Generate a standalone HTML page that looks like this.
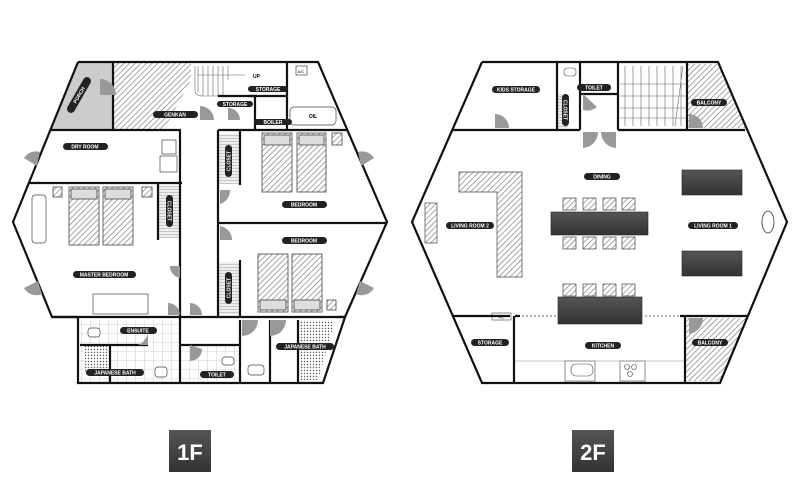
<!DOCTYPE html>
<html><head><meta charset="utf-8"><style>
html,body{margin:0;padding:0;background:#fff;}
svg{display:block}
.lb{font-family:"Liberation Sans",sans-serif;font-size:5px;font-weight:bold;fill:#fff;text-anchor:middle}
</style></head><body>
<svg width="800" height="500" viewBox="0 0 800 500" xmlns="http://www.w3.org/2000/svg">
<defs>
<pattern id="h" width="4" height="4" patternUnits="userSpaceOnUse" patternTransform="rotate(45)"><rect width="4" height="4" fill="#fff"/><line x1="0" y1="0" x2="0" y2="4" stroke="#777" stroke-width="1.3"/></pattern>
<pattern id="st" width="3" height="3" patternUnits="userSpaceOnUse"><rect width="3" height="3" fill="#eee"/><line x1="0" y1="0" x2="3" y2="0" stroke="#888" stroke-width="0.8"/></pattern>
<pattern id="dot" width="3" height="3" patternUnits="userSpaceOnUse"><rect width="3" height="3" fill="#fff"/><circle cx="1.5" cy="1.5" r="0.7" fill="#555"/></pattern>
<pattern id="tile" width="9" height="9" patternUnits="userSpaceOnUse"><rect width="9" height="9" fill="#fff"/><path d="M0 0H9M0 0V9" stroke="#aaa" stroke-width="0.6"/></pattern>
<linearGradient id="dk" x1="0" y1="0" x2="0" y2="1"><stop offset="0" stop-color="#555"/><stop offset="1" stop-color="#333"/></linearGradient>
</defs>

<!-- ============ 1F ============ -->
<polygon points="78,62 113,62 113,130 50,130" fill="#ccc"/>
<polygon points="113,62 191,62 191,80 164,130 113,130" fill="url(#h)"/>
<rect x="80" y="320" width="100" height="62" fill="url(#tile)"/>
<rect x="84" y="345" width="26" height="28" fill="url(#dot)"/>
<polygon points="298,320 335,320 318,380 300,380" fill="url(#dot)"/>
<rect x="180" y="345" width="60" height="36" fill="url(#tile)"/>
<rect x="159" y="186" width="20" height="52" fill="url(#st)"/>
<rect x="219" y="134" width="20" height="50" fill="url(#st)"/>
<rect x="219" y="262" width="20" height="52" fill="url(#st)"/>
<g fill="url(#h)" stroke="#444" stroke-width="0.8">
<rect x="69" y="187" width="30" height="58"/><rect x="103" y="187" width="30" height="58"/>
<rect x="262" y="133" width="30" height="59"/><rect x="297" y="133" width="29" height="59"/>
<rect x="258" y="254" width="30" height="58"/><rect x="292" y="254" width="30" height="58"/>
<rect x="53" y="187" width="9" height="10"/><rect x="142" y="187" width="10" height="10"/>
<rect x="332" y="133" width="10" height="12"/><rect x="327" y="300" width="9" height="10"/>
</g>
<g fill="#ddd" stroke="#444" stroke-width="0.8">
<rect x="71" y="189" width="26" height="10"/><rect x="105" y="189" width="26" height="10"/>
<rect x="264" y="135" width="26" height="10"/><rect x="299" y="135" width="25" height="10"/>
<rect x="260" y="300" width="26" height="10"/><rect x="294" y="300" width="26" height="10"/>
</g>
<g fill="#fff" stroke="#444" stroke-width="0.7">
<rect x="32" y="195" width="14" height="48" rx="3"/>
<rect x="93" y="294" width="55" height="20"/>
<rect x="162" y="140" width="14" height="14"/><rect x="160" y="156" width="17" height="16"/>
<rect x="290" y="107" width="46" height="18" rx="4"/>
<rect x="296" y="66" width="11" height="9"/>
<rect x="88" y="328" width="12" height="9" rx="3"/><rect x="222" y="357" width="12" height="8" rx="3"/>
<rect x="155" y="367" width="12" height="10" rx="3"/><rect x="248" y="365" width="16" height="10" rx="3"/>
</g>
<text x="301" y="73" font-family="Liberation Sans" font-size="4" text-anchor="middle">A/C</text>
<text x="313" y="118" font-family="Liberation Sans" font-size="5" font-weight="bold" text-anchor="middle">OIL</text>
<g stroke="#666" stroke-width="0.6" fill="none">
<path d="M198 66V92M203 66V96M208 66V96M213 66V96M218 66V96M223 66V96M228 66V80"/>
<path d="M197 75H245M195 66V90Q195 96 203 96H218"/>
</g>
<text x="253" y="78" font-family="Liberation Sans" font-size="5" font-weight="bold">UP</text>
<g stroke="#111" stroke-width="2.2" fill="none" stroke-linejoin="miter">
<polyline points="78,62 318,62 387,222 345,317 337,317"/>
<polyline points="78,62 13,222 52,317 78,317"/>
<polyline points="78,317 78,383 323,383 345,317"/>
<path d="M113,62V130M50,130H181M218,130H347M180,130V317M218,130V317M29,183H182M218,223H387M287,62V130M287,96H248M52,317H345"/>
<path d="M80,345H148M180,317V383M240,320V383M180,345H240M270,320V383M298,320V383M110,345V383"/>
<path d="M218,96H255V130M158,183V240M240,130V185M240,260V317"/>
</g>
<g fill="#999">
<path d="M100,95 v-16 a16,16 0 0 1 16,16z"/>
<path d="M200,120 v-14 a14,14 0 0 1 14,14z"/>
<path d="M228,120 v-12 a12,12 0 0 1 12,12z"/>
<path d="M170,266 h10 v12 a12,12 0 0 1 -10,-12z"/>
<path d="M168,315 v-12 a12,12 0 0 1 12,12z"/>
<path d="M190,315 v-12 a12,12 0 0 1 12,12z"/>
<path d="M220,190 v14 a14,14 0 0 0 10,-14z"/>
<path d="M220,240 v-14 a14,14 0 0 1 12,14z"/>
<path d="M148,345 v-16 a16,16 0 0 1 -10,16z"/>
<path d="M190,345 v16 a12,12 0 0 0 12,-12z"/>
<path d="M242,320 v16 a16,16 0 0 0 16,-16z"/>
<path d="M270,320 v16 a16,16 0 0 0 16,-16z"/>
<path d="M37,166 L24,158 A14,14 0 0 1 40,152z"/>
<path d="M38,281 L24,288 A14,14 0 0 0 42,294z"/>
<path d="M361,166 L374,158 A14,14 0 0 0 358,152z"/>
<path d="M360,281 L374,288 A14,14 0 0 1 356,294z"/>
</g>
<g>
<rect x="63" y="143" width="45" height="7" rx="3.5" fill="#222"/><text class="lb" x="85" y="148.5">DRY ROOM</text>
<rect x="153" y="111" width="45" height="7" rx="3.5" fill="#222"/><text class="lb" x="175" y="116.5">GENKAN</text>
<rect x="248" y="86" width="40" height="6" rx="3" fill="#222"/><text class="lb" x="268" y="91">STORAGE</text>
<rect x="217" y="101" width="36" height="6" rx="3" fill="#222"/><text class="lb" x="235" y="106">STORAGE</text>
<rect x="254" y="119" width="38" height="6" rx="3" fill="#222"/><text class="lb" x="273" y="124">BOILER</text>
<rect x="282" y="201" width="45" height="7" rx="3.5" fill="#222"/><text class="lb" x="304" y="206.5">BEDROOM</text>
<rect x="282" y="237" width="45" height="7" rx="3.5" fill="#222"/><text class="lb" x="304" y="242.5">BEDROOM</text>
<rect x="73" y="271" width="63" height="7" rx="3.5" fill="#222"/><text class="lb" x="104" y="276.5">MASTER BEDROOM</text>
<rect x="120" y="327" width="37" height="7" rx="3.5" fill="#222"/><text class="lb" x="138" y="332.5">ENSUITE</text>
<rect x="86" y="369" width="58" height="7" rx="3.5" fill="#222"/><text class="lb" x="115" y="374.5">JAPANESE BATH</text>
<rect x="200" y="371" width="34" height="7" rx="3.5" fill="#222"/><text class="lb" x="217" y="376.5">TOILET</text>
<rect x="276" y="343" width="58" height="7" rx="3.5" fill="#222"/><text class="lb" x="305" y="348.5">JAPANESE BATH</text>
<rect x="166" y="195" width="7" height="32" rx="3.5" fill="#222"/><text class="lb" transform="translate(169.5,211) rotate(90)" y="1.8">CLOSET</text>
<rect x="225" y="145" width="7" height="32" rx="3.5" fill="#222"/><text class="lb" transform="translate(228.5,161) rotate(-90)" y="1.8">CLOSET</text>
<rect x="225" y="272" width="7" height="32" rx="3.5" fill="#222"/><text class="lb" transform="translate(228.5,288) rotate(-90)" y="1.8">CLOSET</text>
<rect x="75" y="75" width="8" height="40" rx="4" fill="#222" transform="rotate(30 79 95)"/><text class="lb" transform="translate(79,95) rotate(-60)" y="1.8">PORCH</text>
</g>

<!-- ============ 2F ============ -->
<polygon points="688,64 718,64 745,128 688,128" fill="url(#h)"/>
<polygon points="686,318 747,318 722,381 686,381" fill="url(#h)"/>
<rect x="558" y="94" width="10" height="34" fill="url(#st)"/>
<g fill="url(#h)" stroke="#444" stroke-width="0.7">
<path d="M459,172H522V277H497V192H459Z"/>
<rect x="425" y="203" width="12" height="40"/>
<rect x="563" y="198" width="13" height="12"/><rect x="583" y="198" width="13" height="12"/><rect x="603" y="198" width="13" height="12"/><rect x="622" y="198" width="13" height="12"/>
<rect x="563" y="237" width="13" height="12"/><rect x="583" y="237" width="13" height="12"/><rect x="603" y="237" width="13" height="12"/><rect x="622" y="237" width="13" height="12"/>
<rect x="563" y="284" width="13" height="12"/><rect x="583" y="284" width="13" height="12"/><rect x="603" y="284" width="13" height="12"/><rect x="622" y="284" width="13" height="12"/>
</g>
<g fill="url(#dk)" stroke="#222" stroke-width="0.6">
<rect x="551" y="212" width="97" height="23"/>
<rect x="682" y="170" width="60" height="25"/>
<rect x="682" y="251" width="60" height="25"/>
<rect x="558" y="297" width="84" height="27"/>
</g>
<ellipse cx="768" cy="222" rx="6" ry="11" fill="#fff" stroke="#333" stroke-width="0.8"/>
<g fill="#fff" stroke="#444" stroke-width="0.6">
<rect x="565" y="361" width="30" height="20"/><rect x="620" y="361" width="25" height="20"/>
<rect x="571" y="364" width="22" height="12" rx="5"/>
<circle cx="627" cy="367" r="2.5"/><circle cx="634" cy="367" r="2.5"/><circle cx="630" cy="374" r="2.5"/>
<rect x="492" y="313" width="19" height="7"/>
<rect x="564" y="68" width="12" height="8" rx="3"/>
</g>
<text x="501.5" y="318.5" font-family="Liberation Sans" font-size="3.5" text-anchor="middle">A/C</text>
<path d="M515,361H685" stroke="#888" stroke-width="0.6"/>
<g stroke="#666" stroke-width="0.6" fill="none">
<path d="M625,66V126M633,66V126M641,66V126M649,66V126M657,66V126M665,66V126M673,66V126M681,66V126M620,84H686M620,96H686M620,108H686M620,118H686M683,66L675,126"/>
</g>
<path d="M522,316H557M645,316H680" stroke="#333" stroke-width="0.8" stroke-dasharray="2,2"/>
<g stroke="#111" stroke-width="2.2" fill="none">
<polyline points="482,62 718,62 787,222 720,383 482,383 412,222 482,62"/>
<path d="M453,130H580M618,130H745M557,62V130M580,62V130M618,62V130M687,62V130M580,94H618"/>
<path d="M452,316H510M515,316H520M680,316H748M514,316V383M685,316V383"/>
</g>
<g fill="#999">
<path d="M495,128 v-14 a14,14 0 0 1 14,14z"/>
<path d="M583,94 v16 a16,16 0 0 0 14,-3z"/>
<path d="M583,132 v16 a16,16 0 0 0 15,-16z"/>
<path d="M616,132 v16 a16,16 0 0 1 -15,-16z"/>
<path d="M689,128 v-14 a14,14 0 0 1 14,14z"/>
<path d="M689,318 v16 a16,16 0 0 0 14,-16z"/>
</g>
<g>
<rect x="492" y="86" width="48" height="7" rx="3.5" fill="#222"/><text class="lb" x="516" y="91.5">KIDS STORAGE</text>
<rect x="577" y="84" width="34" height="7" rx="3.5" fill="#222"/><text class="lb" x="594" y="89.5">TOILET</text>
<rect x="562" y="94" width="7" height="32" rx="3.5" fill="#222"/><text class="lb" transform="translate(565.5,110) rotate(90)" y="1.8">CLOSET</text>
<rect x="691" y="99" width="36" height="7" rx="3.5" fill="#222"/><text class="lb" x="709" y="104.5">BALCONY</text>
<rect x="584" y="173" width="36" height="7" rx="3.5" fill="#222"/><text class="lb" x="602" y="178.5">DINING</text>
<rect x="446" y="222" width="48" height="7" rx="3.5" fill="#222"/><text class="lb" x="470" y="227.5">LIVING ROOM 2</text>
<rect x="688" y="222" width="50" height="7" rx="3.5" fill="#222"/><text class="lb" x="713" y="227.5">LIVING ROOM 1</text>
<rect x="471" y="339" width="38" height="7" rx="3.5" fill="#222"/><text class="lb" x="490" y="344.5">STORAGE</text>
<rect x="585" y="342" width="36" height="7" rx="3.5" fill="#222"/><text class="lb" x="603" y="347.5">KITCHEN</text>
<rect x="692" y="339" width="36" height="7" rx="3.5" fill="#222"/><text class="lb" x="710" y="344.5">BALCONY</text>
</g>

<rect x="169" y="430" width="42" height="42" fill="url(#dk)"/>
<text x="190" y="460" font-family="Liberation Sans" font-size="22" font-weight="bold" fill="#fff" text-anchor="middle">1F</text>
<rect x="572" y="430" width="42" height="42" fill="url(#dk)"/>
<text x="593" y="460" font-family="Liberation Sans" font-size="22" font-weight="bold" fill="#fff" text-anchor="middle">2F</text>
</svg>
</body></html>
